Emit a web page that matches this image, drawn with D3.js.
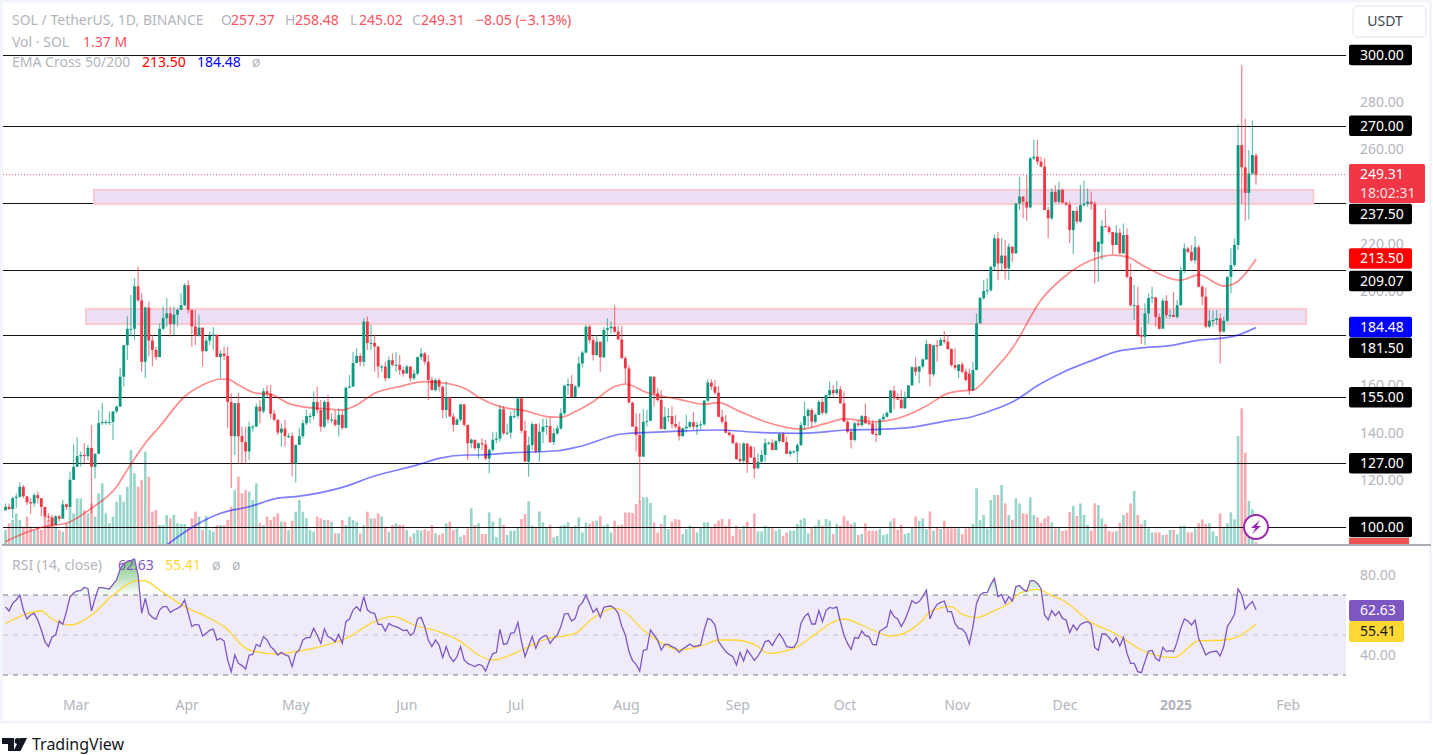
<!DOCTYPE html>
<html>
<head>
<meta charset="utf-8">
<title>SOL / TetherUS</title>
<script src="https://cdn.jsdelivr.net/npm/d3@7"></script>
<style>
  html, body { margin: 0; padding: 0; background: #fff; overflow: hidden; }
  svg { display: block; font-family: "Noto Sans", Roboto, sans-serif; }
  .scale-text { font-size: 14px; fill: #b2b5be; }
  .legend { font-size: 14px; }
</style>
</head>
<body>
<div id="chart"></div>
<script>
// daily candles, index 0 = 10 Feb 2024, last = 24 Jan 2025
const opens = [107,108.6,107.6,112.2,112.8,117,113,110.5,110,113.5,
112.2,108.5,104.5,104,100.8,104.5,103.5,109.6,108.5,120,
125.5,130,130.5,130,133.5,125.5,131,144,144.5,144.5,
144.5,149,151,163.7,177,184,184,202,196,170,
193,179,175,172,184,188.5,190.5,186,190,192,
194,202.5,192,185,181,184.5,174.5,179,181,181.5,
172,173.5,172.5,153,138.5,152.5,138.5,136,132,142.5,
142.5,151,149,157.5,156.5,148,145.5,140,141.7,138.5,
138.5,127,134.8,138.5,144,147,147,153,149.6,142.5,
153,145.5,145.5,143.3,147.5,142,159,159.5,169.5,172.5,
170,187,178,178,176.5,168,168,163,170.7,168.7,
168.7,166.5,165,168,163,165,172,173.5,170,162.3,
158,162.3,159.5,149.6,155,146.8,143.3,145.5,152,143.3,
135.5,137,133.4,135.5,135,129,132.7,137,137.5,149.9,
139.7,140,147,147,154.5,140.8,127.7,134.7,143.6,132,
140.4,142.5,142.8,136,139.7,141.8,148.2,159.9,160.6,155,
159.5,169.3,173.9,184.9,179.2,172.9,178.5,171.9,183.5,184.2,
184.9,182.8,179.5,171.5,167.2,152.7,142.5,139,129.8,144.6,
145,163.7,156.6,153.8,141.5,146.7,147,143.6,142.5,138.5,
141.8,142.5,144.4,142.5,143.2,143.5,153.5,161.2,159.5,156.9,
146.7,144.6,140,139,135.5,128.8,128,135.4,134,129.5,
124.8,127.7,130.5,135.5,135.7,132.6,136.4,139.4,136,131,
132,132,134.7,143.2,147,149.6,144.6,147.5,153,148.4,
156,158,156.7,158.3,152.4,144.6,140.4,136.9,143.9,143.2,
147,144,143.9,139.4,139,145.6,146.7,148.4,157.8,154.5,
154,150.3,155,160,167.7,165.8,168,171,177.5,164.7,
177,176.8,179.2,178.5,175.4,168.6,166.1,168.9,165.8,165,
157.8,166.5,186.3,197,200,200.3,210.3,222.3,211.7,215,
209.6,218.8,216,237.1,240,237.8,235.4,256.2,256.9,254.8,
252.7,234.3,230.8,242,237.8,242.8,237.4,236.7,225.8,233.9,
229.4,236.4,237,237.8,237,216.6,220,227.5,227,225,
219.5,224.7,216,223.7,206,194,194,181.3,180.6,190.5,
197,197.3,189,184,195.9,189.8,189.8,189,194,208.9,
218,216.6,213,218.5,201.8,197.6,184.9,187.4,187.7,188.4,
182.8,187.4,206,211,219.5,261.8,252.4,241.6,249.8,257.37];
const highs = [110,110,112.9,114.3,119,117.8,112.9,112.2,114.3,115,
112.2,108.6,105.8,105.1,105.1,105.1,111.5,110,123.5,135,
138,132,135.5,134.8,143.2,131.2,149.6,152.7,145.4,148.9,
148.9,151.7,167.3,177.1,189.2,198.3,205.4,210.3,199,193.4,
195.5,181.4,176.4,186.3,193.4,196.9,193.4,193.4,192.7,199,
203.3,204.4,192,192,189.9,184.2,180.4,182.8,184.6,181.4,
175,176.4,176.4,156.7,152.4,156.7,142.5,142.5,144.7,143.2,
152.4,153.8,158.8,160.2,160.2,149.6,145.4,144,145.4,139.7,
140,134.8,141.8,145.4,149.6,148.2,157.4,159.5,153.8,153.8,
156,148.2,149.6,150.3,149.6,159.5,164.4,174.3,175.7,173.6,
188.4,189.2,185.6,181.4,176.4,168.7,170.1,172.2,173.6,174.3,
172.9,168,168.7,167.3,166.6,172.2,175.7,174.3,172.9,163.7,
163,163,159.5,161.6,155.3,148.2,146.1,151.7,151.7,143.2,
137.6,136.2,135.8,137.6,136.9,133.3,140.4,140.4,151.7,151.3,
143.9,148.9,149.6,155.2,154.9,145,138.3,144.6,144,144,
146,146,146.5,141.8,143.2,150.3,160.2,163,164.4,160.2,
172.2,174.7,185.6,185.6,180.7,181.4,178.5,184.9,188.4,187,
194,185.2,185.2,172.5,168.6,153.1,148.2,148.2,149.9,149.6,
164.1,163.7,158.8,158,151,150.3,151.3,147.5,144.6,142.2,
147.7,145,148.9,144.6,145,153.8,162.6,162.6,162.3,159.7,
149.6,147.5,141.1,139.7,136.2,135.7,135.9,135.5,134.7,134,
131.2,132.6,137.6,136.2,137.2,136.9,139.7,140.4,138.3,132.6,
132.6,135.5,144.6,153.1,150.3,150.3,148.2,153.8,154.5,155.9,
161.6,160.2,162,159.7,157.4,145.3,141.8,144.6,145.3,147.5,
152.4,146.5,145.3,144.6,146,148.2,148.9,158,159.7,156.6,
158.3,157.4,160.2,168.2,171.9,168.2,171.5,179.5,177.8,177.1,
179.2,180.4,183.2,181.4,175.7,175.7,168.9,169.8,167.2,167.2,
170,190.5,197.6,204.6,205.4,210.3,224,225.1,222.3,221.6,
220.2,218.8,237.1,248.4,240,249.1,256.9,264.2,264,256.9,
256.2,235.7,243.5,244.9,246.3,243.5,237.9,237.9,234.3,235.7,
244.9,246.7,243.5,242.1,237.9,220.9,230.1,234.6,227.9,225.1,
227.9,226.5,228.6,226.5,211.7,202.5,201.8,184.9,194.8,199,
201.8,197.6,190.5,196.9,198.3,191.9,199.7,196.2,210.3,220.2,
218.8,219.5,223.3,219.5,202.5,201.5,191.9,191.6,191.9,190.5,
189.1,206.3,218.1,222.3,270.7,295.7,273.1,259.7,272.2,258.48];
const lows = [107.2,107.2,103.7,108,112.2,112.2,109.3,105.5,108.6,110,
104.4,103.7,102.3,99.5,103,102.3,107.2,107.2,118.5,122.8,
125.6,125.6,127,128.4,105.8,120.6,131.2,143.2,143.2,143.2,
136.9,148.2,151,159.5,170.8,180.7,179.3,195.5,165.8,163,
172.2,168,170.8,171.9,183.5,184.9,180.7,181.4,184.9,192,
193.4,190.6,176.4,177.1,180.7,168,174.3,177.1,175,172.2,
163,170.8,141.8,116.4,130.5,127,127,127,128.4,140.4,
142.5,144,148.2,155.3,146.1,144.7,139,134.1,134.1,137.6,
121.4,119,134.8,137.6,143.2,144,145.4,148.2,140.4,141.8,
144,144,142.5,138.3,141.1,141.8,158.8,159.5,169.4,168,
168,175,175,165.8,163,165.8,161.6,163.7,168,165.8,
164.4,163.7,165.8,161.6,162.3,164.4,170.8,168.7,153.8,158,
157.4,157.4,146.1,146.1,146.8,140.4,143.2,144.7,142.5,128.4,
133.4,132.7,129.1,132.6,128.4,122.7,131.9,135.5,136.2,139,
139,137.6,146,146,139.7,127.7,121.3,132.6,131.2,127.7,
135.5,139,135.5,134.7,139,141.1,147.5,156,155.2,155.2,
158.8,167.7,173.6,177.8,170.5,172.2,165.8,171.5,178.5,182,
182,179.2,171.5,160.9,152.7,142.5,132,110.7,129.8,142.5,
145.3,151,153.1,141.5,141.1,144.6,141.8,141.8,136.6,138.3,
140,141.8,141.1,139,141.1,143,153.1,158,156,146.5,
143.9,139.7,138.3,135.2,128.4,127.2,127,123,129.1,120.6,
124.9,127,127.7,134.7,132.6,132.6,135.7,135.9,130.9,129.8,
131.2,127.2,134.3,141.1,142.5,142.2,143.9,147.5,147.5,147.5,
155.2,155.2,156,152.1,144.6,139.7,133.3,136.2,142.5,142.5,
143.6,143.2,139,135.9,138.7,145.3,146.3,148.2,149.9,153.8,
150.3,150,155,160.2,164,160.9,167.2,170.8,159.5,163.7,
170,177.1,177.8,175,167.9,166.5,163,165.1,161.6,155.9,
157.6,166.5,186.3,196.2,198.3,199.7,208.9,204.6,208.9,204.9,
204.6,212.4,215.7,234.3,230.8,229.8,235,255.5,253.4,252.4,
234.3,222.3,230.1,237.4,237.1,237.1,236,220.2,215.7,228.6,
228.9,235.7,235.7,234.3,203.2,203.9,213.1,227.2,224.1,215.7,
219.5,215.7,215.7,205.4,193.3,187.7,180.6,177.5,177.1,186.3,
194.8,184.9,183.7,184.2,188.4,188.4,189.1,188.4,194,207.5,
216,212.4,211.7,201.5,194,184.2,184.2,184.9,185.6,169.3,
182.3,187,199,210.3,217.4,236.8,229.8,230.3,249.1,245.02];
const closes = [108.6,107.6,112.2,112.8,117,113,110.5,110,113.5,112.2,
108.5,104.5,104,100.8,104.5,103.5,109.6,108.5,120,125.5,
130,130.5,130,133.5,125.5,131,144,144.5,144.5,144.5,
149,151,163.7,177,184,184,202,196,170,193,
179,175,172,184,188.5,190.5,186,190,192,194,
202.5,192,185,181,184.5,174.5,179,181,181.5,172,
173.5,172.5,153,138.5,152.5,138.5,136,132,142.5,142.5,
151,149,157.5,156.5,148,145.5,140,141.7,138.5,138.5,
127,134.8,138.5,144,147,147,153,149.6,142.5,153,
145.5,145.5,143.3,147.5,142,159,159.5,169.5,172.5,170,
187,178,178,176.5,168,168,163,170.7,168.7,168.7,
166.5,165,168,163,165,172,173.5,170,162.3,158,
162.3,159.5,149.6,155,146.8,143.3,145.5,152,143.3,135.5,
137,133.4,135.5,135,129,132.7,137,137.5,149.9,139.7,
140,147,147,154.5,140.8,127.7,134.7,143.6,132,140.4,
142.5,142.8,136,139.7,141.8,148.2,159.9,160.6,155,159.5,
169.3,173.9,184.9,179.2,172.9,178.5,171.9,183.5,184.2,184.9,
182.8,179.5,171.5,167.2,152.7,142.5,139,129.8,144.6,145,
163.7,156.6,153.8,141.5,146.7,147,143.6,142.5,138.5,141.8,
142.5,144.4,142.5,143.2,143.5,153.5,161.2,159.5,156.9,146.7,
144.6,140,139,135.5,128.8,128,135.4,127.2,129.5,124.8,
127.7,130.5,135.5,135.7,132.6,136.4,139.4,136,131,132,
132,134.7,143.2,147,149.6,144.6,147.5,153,148.4,156,
158,156.7,158.3,152.4,144.6,140.4,136.9,143.9,143.2,147,
144,143.9,139.4,139,145.6,146.7,148.4,157.8,154.5,154,
150.3,155,160,167.7,165.8,168,171,177.5,164.7,177,
176.8,179.2,178.5,175.4,168.6,167.5,168.9,165.8,162.3,158,
166.5,186.3,197,200,200.3,210.3,222.3,211.7,215,209.6,
218.8,216,237.1,240,237.8,235.4,256.2,256.9,254.8,252.7,
234.3,230.8,242,237.8,242.8,237.4,236.7,225.8,233.9,229.4,
236.4,237,237.8,237,216.6,220.9,227.5,227,225,219.5,
224.7,216,223.7,206,194,194,181.3,180.6,190.5,197,
197.3,189,184,195.9,189.8,189.8,189,194,208.9,218,
216.6,213,218.5,201.8,197.6,184.9,187.4,187.7,188.4,182.8,
187.4,206,211,219.5,261.8,252.4,241.6,249.8,257.6,249.31];
// volume, millions of SOL
const volumes = [9.7,14.3,16.6,21.1,16.6,12,18.9,12,9.7,12,
9.7,18.9,16.6,18.9,12,9.7,8.5,14.3,25.7,21.1,
31.5,31.5,23.4,21.1,28,18.9,34.9,41.8,21.1,14.3,
18.9,29.2,33.8,29.2,39.5,64.8,48.7,39.5,44.1,63.7,
46.4,22.3,23.4,13.1,13.1,20,17.7,20,14.3,13.8,
13.8,10.8,17.7,22.3,18.9,9.7,19.3,9.7,8.5,13.1,
13.1,13.1,16.6,25.7,37.2,46.4,34.9,37.2,36.1,30.3,
41.8,14.3,13.1,18.9,16.6,18.9,21.1,15.4,15.4,9.7,
16.1,22.3,30.3,22.3,17.7,9.7,8.5,18.9,17.7,16.6,
16.6,15.4,7.4,7.4,16.6,13.1,18.9,16.6,15.4,7.4,
13.1,22.3,17.7,17.7,21.1,18.9,12,8.5,13.1,14.3,
13.1,13.1,9.7,5,7.4,9.7,9.2,10.1,9,13.1,
7.4,6.2,7.4,14.3,15.4,9.7,10.8,5,6.2,10.8,
24.6,13.1,14.3,6.9,6.9,21.8,15.4,4.6,17.9,13.3,
6.2,9.2,9.2,11.5,17.2,20.7,29.4,12.6,11.5,22.5,
14.9,11.5,13.3,4.6,5.7,12.6,13.3,14.9,11.5,12.6,
18.4,8,14.9,13.8,15.6,16.1,19.1,12.6,13.8,8,
16.1,12.6,13.3,21.8,21.8,21.4,27.6,29.9,32.2,32.2,
28.3,14.9,8,13.8,20,10.3,15.4,17.2,16.8,6.9,
10.3,12.6,11.5,8,11.5,14.9,14.9,11.5,13.8,16.1,
17.2,12.6,17.2,5.7,12.6,10.3,12.6,15.4,11.5,21.1,
8.7,8.7,12.6,11.5,11.5,9.2,10.3,5.7,8,9.2,
9.2,13.8,16.8,17.9,7.4,11.5,12.6,16.8,12.6,17.2,
16.1,6.9,13.8,12.6,19.5,16.1,13.8,14.9,6.2,6.9,
14.3,9.2,9.2,9.2,10.3,6.2,6.9,15.6,17.9,9.9,
13.3,6.9,7.6,11.5,19.1,16.1,17.7,10.3,22.5,9.2,
11.5,10.3,16.1,11.5,10.8,10.8,10.8,6.9,10.8,11.5,
13.8,38.4,16.6,20,10.8,30.3,33.8,33.8,40.7,28,
20,16.6,31.5,28,21.1,20.7,32.2,20,18.4,14.7,
17.7,19.3,14.9,10.8,11.3,9,9.7,22.1,26.2,19.3,
28,20,13.1,9.2,28,26.9,17.7,13.8,9,8.5,
9,14.7,20,21.6,28,36.6,20,13.8,16.6,10.8,
7.8,8,8,6.2,6.7,9.7,9.7,6.7,12.4,12.6,
8,8,10.8,14.3,17,13.8,14.3,8.7,5.5,21.1,
10.8,14.3,21.8,17,74.5,93.6,63,29.7,23.9,1.37];
// EMA readings as [day, price]
const ema50 = [[0,93.8],[4,96.6],[11,100.2],[17,101.6],[24,108],[31,117.1],[34,124.2],[39,135.5],[43,142.5],[50,155.3],
[55,160.2],[60,162.6],[62,162.6],[65,160.2],[70,156.7],[74,156.2],[79,152.4],[84,150.7],[88,150.3],[94,149.6],
[98,151.7],[103,156.7],[110,159.5],[117,161.6],[123,160.9],[129,158.1],[132,155],[138,151],[145,149.3],[151,146.8],
[155,146.5],[159,148.9],[164,153.1],[170,159.5],[173,160.6],[179,157],[188,154.1],[195,152],[199,152.7],[205,148.9],
[212,144.6],[222,141.5],[229,143.9],[234,145.8],[242,144.6],[250,146.5],[257,151.3],[263,156.6],[266,157.6],[270,158],
[275,165],[281,175.7],[289,196.2],[295,205.4],[303,213],[309,215.2],[313,214.5],[318,210.3],[328,204.6],[333,206.8],
[340,202.1],[343,203.2],[349,213.5]];
const ema200 = [[45,92.4],[51,98.8],[54,101.6],[60,105.8],[68,108.6],[76,112.2],[81,112.9],[94,116.8],[103,121.6],[115,126.3],
[121,129.1],[129,130.5],[132,130.5],[142,131.5],[154,132.3],[160,134],[172,139.4],[185,140.4],[199,141.1],[210,140.1],
[222,139.7],[235,141.1],[244,141.4],[252,142.1],[264,145.3],[269,146.4],[275,149.3],[281,153],[289,160.8],[295,165.5],
[303,170.4],[310,174.3],[316,175.7],[326,177.1],[333,179.2],[339,179.9],[343,180.9],[349,184.48]];
const rsi = [64,62,65.8,67.5,70,62.5,58,60,60.8,57.5,
52.5,46.7,44.2,49,50,57,55.3,61.7,69,71,
72,72.2,73.8,73.3,62,68.3,73.7,73.7,73.3,73,
75.3,77.5,83,85.8,86.7,87.2,88,80,60.8,68.3,
60.8,58.8,57.8,62.5,64.2,64.2,61.3,62.5,63.3,64.5,
67.5,60.8,54.2,55.3,55,49.5,50.8,52.5,53,47.5,
48.3,47,37.5,31.7,40,35.8,34.7,33,40,40.3,
45.3,44.2,49.2,47.5,44.2,42.5,40,41.3,40,39.5,
34.2,40.8,42.5,47.5,48.7,48.7,53.3,50,45.8,53,
49.2,48.3,46.7,50.3,45.8,56.7,58,62.5,64.2,62,
69.2,62.5,61.2,60.8,55.3,55.3,52,55.8,54.7,54.2,
53.3,52.2,52.5,49.7,51.3,58,58.8,54.2,47.5,44.2,
47.5,45,38.7,44.2,39.2,36.7,39.2,44.2,37.5,35.8,
35,34.2,35.3,34.7,32,36.7,40.7,41.2,52.8,45.3,
45.8,50.8,51.2,56.3,46.7,39.2,44.2,49.2,43.3,47.8,
49.2,49.7,45.8,48.3,50,54.2,60.5,60.8,57,58.3,
64.2,66.2,70,65.8,61.3,63.3,58.8,63.8,64.3,64.5,
63.3,60.8,54.2,50,41.7,37.2,35.3,32,42.3,42.8,
52.5,50,47.5,42.5,45.3,45.3,44.2,43.3,41.3,43,
44.2,45.5,44.2,44.5,45,52.5,58.3,57.5,55,46.7,
44.2,41.7,40.3,39.2,35,41.3,37,42.5,40,37.3,
39.5,42.5,46.7,47.2,44.7,48,50.7,48,44.2,43.8,
43.8,46.7,55.8,59.2,60.8,55.5,55.5,62.2,56.7,62.2,
63.8,63.3,64,56.7,50,45.8,42.8,48.7,48.3,52,
49.7,49.2,45.3,45,52,53,54.2,62.2,59.2,58,
54.2,57.5,62,67.2,65.8,66.7,69.2,72.5,58,62.5,
65.3,66.3,67,61.7,61.7,55.8,53.3,53,50.8,45.5,
54.2,65.8,70,71.2,71.3,75.3,78.3,69.2,70.3,65.8,
69.2,67,74.2,74.7,72.8,71.7,77.2,77.2,75.8,73.3,
60,57.5,62.2,59.7,61.7,58.3,57.5,51.2,55,52.5,
55.3,56.2,56.7,55.3,43.7,42.3,50.5,50.5,48.7,46.2,
48.7,44.5,48.8,40.8,35.8,35.8,31.7,31.2,36.7,42,
42.3,38.3,37,43.8,41.7,42.2,41.7,46.7,53.3,58,
57,55,57.5,48.3,44.2,40,41.3,41.7,42,39.5,
44.2,54.2,57,60.3,73,70,62.8,65,66.7,62.63];
const rsiMa = [[0,55.8],[2,57.5],[5,60],[10,62],[13,58],[18,55],[24,60],[30,70],[37,77.2],[39,77],
[43,72.5],[50,64.2],[56,59.2],[61,54.2],[68,42.5],[76,40.5],[82,42],[88,44.2],[95,48.3],[103,56.7],
[108,59.3],[114,55],[121,51.7],[127,46.7],[132,40],[136,37.5],[142,40.8],[146,44.2],[151,48],[159,50.8],
[163,57],[170,63.3],[172,62.5],[178,52.5],[185,44.2],[188,42.5],[195,45],[199,47.5],[203,47.5],[209,45.3],
[213,40.8],[221,44.2],[225,49.2],[234,58],[239,55],[247,49.5],[256,57.5],[258,61.7],[264,64.2],[267,60.3],
[271,58.8],[276,62.2],[280,65.8],[283,70.8],[288,72.8],[292,69.7],[295,67.5],[303,56.3],[310,50.5],[317,42.5],
[326,38.7],[333,47],[340,47.5],[344,49.2],[349,55.41]];

const levels = [300,270,237.5,209.07,181.5,155,127,100];
const priceTicks = [280,260,220,200,160,140,120];
const rsiTicks = [80,40];
const rsiBands = [70,50,30];
// month label centres, as day numbers
const monthDays = [19.7,50.7,81,112,142.5,173.3,204.4,234.3,265.6,295.7,326.7,358];
const monthLabels = ['Mar','Apr','May','Jun','Jul','Aug','Sep','Oct','Nov','Dec','2025','Feb'];
// demand / supply boxes: [first day, last day, top price, bottom price]
const zones = [[24.7,365,242.8,236.9],[22.5,363,192.4,186]];
const lastPrice = 249.31;

const width = 1433, height = 755;
const plotLeft = 3, plotRight = 1346;
const up = '#089981', down = '#f23645';

const svg = d3.select('#chart').append('svg')
  .attr('width', width)
  .attr('height', height);

const x = d3.scaleLinear().domain([0, 349]).range([5.5, 1256]);
const y = d3.scaleLinear().domain([100, 300]).range([527, 55]);
const yVol = d3.scaleLinear().domain([0, 100]).range([544, 399]);
const yRsi = d3.scaleLinear().domain([30, 70]).range([675, 595]);

const defs = svg.append('defs');
defs.append('clipPath').attr('id', 'price-clip').append('rect')
  .attr('x', plotLeft).attr('y', 0).attr('width', plotRight - plotLeft).attr('height', 544);
defs.append('clipPath').attr('id', 'pane-clip').append('rect')
  .attr('x', 1340).attr('y', 530).attr('width', 90).attr('height', 14);
const grad = defs.append('linearGradient').attr('id', 'rsi-over')
  .attr('gradientUnits', 'userSpaceOnUse')
  .attr('x1', 0).attr('x2', 0).attr('y1', yRsi(88)).attr('y2', yRsi(70));
grad.append('stop').attr('offset', 0).attr('stop-color', '#4caf50').attr('stop-opacity', 0.75);
grad.append('stop').attr('offset', 1).attr('stop-color', '#4caf50').attr('stop-opacity', 0.02);
defs.append('clipPath').attr('id', 'rsi-top-clip').append('rect')
  .attr('x', plotLeft).attr('y', 546).attr('width', plotRight - plotLeft).attr('height', yRsi(70) - 546);

// outer frame
svg.append('rect').attr('x', 1.5).attr('y', 1).attr('width', 1429).attr('height', 721)
  .attr('fill', 'none').attr('stroke', '#f0f3fa').attr('stroke-width', 2.5);

const price = svg.append('g').attr('clip-path', 'url(#price-clip)');

// volume first, everything else sits on top of it
price.append('g').selectAll('rect')
  .data(volumes)
  .join('rect')
  .attr('x', (d, i) => x(i) - 1.3)
  .attr('width', 2.6)
  .attr('y', d => yVol(d))
  .attr('height', d => 544 - yVol(d))
  .attr('fill', (d, i) => closes[i] >= opens[i] ? up : down)
  .attr('opacity', 0.42);

// level lines, 237.50 runs under the first box
price.append('g').selectAll('line')
  .data(levels)
  .join('line')
  .attr('x1', plotLeft).attr('x2', plotRight)
  .attr('y1', d => Math.round(y(d)) + 0.5).attr('y2', d => Math.round(y(d)) + 0.5)
  .attr('stroke', '#131313')
  .attr('stroke-width', 1.2);

price.append('g').selectAll('rect')
  .data(zones)
  .join('rect')
  .attr('x', d => x(d[0]))
  .attr('width', d => x(d[1]) - x(d[0]))
  .attr('y', d => y(d[2]))
  .attr('height', d => y(d[3]) - y(d[2]))
  .attr('fill', '#eddff3')
  .attr('stroke', '#fcc9cf')
  .attr('stroke-width', 2);

price.append('line')
  .attr('x1', plotLeft).attr('x2', plotRight)
  .attr('y1', y(lastPrice)).attr('y2', y(lastPrice))
  .attr('stroke', down).attr('stroke-width', 1).attr('stroke-dasharray', '1 2').attr('opacity', 0.8);

// candles
const candle = price.append('g').selectAll('g')
  .data(closes)
  .join('g')
  .attr('fill', (d, i) => d >= opens[i] ? up : down)
  .attr('stroke', (d, i) => d >= opens[i] ? up : down);
candle.append('line')
  .attr('x1', (d, i) => x(i)).attr('x2', (d, i) => x(i))
  .attr('y1', (d, i) => y(highs[i])).attr('y2', (d, i) => y(lows[i]))
  .attr('stroke-width', 1.2)
  .attr('stroke-opacity', 0.62);
candle.append('rect')
  .attr('x', (d, i) => x(i) - 1.4)
  .attr('width', 2.8)
  .attr('y', (d, i) => y(Math.max(d, opens[i])))
  .attr('height', (d, i) => Math.max(1, Math.abs(y(d) - y(opens[i]))))
  .attr('stroke', 'none');

const emaLine = d3.line().x(d => x(d[0])).y(d => y(d[1])).curve(d3.curveMonotoneX);
price.append('path').attr('d', emaLine(ema50))
  .attr('fill', 'none').attr('stroke', '#ff0000').attr('stroke-opacity', 0.45).attr('stroke-width', 1.7);
price.append('path').attr('d', emaLine(ema200))
  .attr('fill', 'none').attr('stroke', '#0000ff').attr('stroke-opacity', 0.5).attr('stroke-width', 1.7);

// pane separator
svg.append('line').attr('x1', 2).attr('x2', 1431).attr('y1', 545).attr('y2', 545)
  .attr('stroke', '#8c8f98').attr('stroke-width', 1.5);

// price scale
svg.append('g').selectAll('text')
  .data(priceTicks)
  .join('text')
  .attr('class', 'scale-text')
  .attr('x', 1360).attr('y', d => y(d)).attr('dy', '0.35em')
  .text(d => d3.format('.2f')(d));

// volume tag, cut off by the pane edge
const volTag = svg.append('g').attr('clip-path', 'url(#pane-clip)');
volTag.append('rect').attr('x', 1349).attr('y', 538).attr('width', 60).attr('height', 10).attr('fill', '#ef5350');
volTag.append('text').attr('x', 1361).attr('y', 548).attr('dy', '0.35em').attr('font-size', 13).attr('fill', '#fff').text('1.37 M');

// nudged where the labels would otherwise stack
const labelNudge = new Map([[237.5, 11.5], [209.07, 11.4], [181.5, 13]]);
function priceTag(cy, h, w, fill, text, color) {
  svg.append('rect').attr('x', 1349).attr('y', cy - h / 2).attr('width', w).attr('height', h)
    .attr('rx', 2).attr('fill', fill);
  svg.append('text').attr('x', 1360).attr('y', cy).attr('dy', '0.35em')
    .attr('font-size', 14).attr('fill', color).text(text);
}
levels.forEach(l => priceTag(y(l) + (labelNudge.get(l) || 0), 20.5, 63, '#000', d3.format('.2f')(l), '#fff'));
priceTag(258.5, 20.5, 63, '#ff0000', '213.50', '#fff');
priceTag(327, 20.5, 63, '#0000ff', '184.48', '#fff');

svg.append('rect').attr('x', 1349).attr('y', 164).attr('width', 76).attr('height', 39).attr('rx', 2).attr('fill', down);
svg.append('text').attr('x', 1360).attr('y', 174.5).attr('dy', '0.35em').attr('font-size', 14).attr('fill', '#fff').text('249.31');
svg.append('text').attr('x', 1360).attr('y', 193).attr('dy', '0.35em').attr('font-size', 14).attr('fill', '#fff').attr('opacity', 0.85).text('18:02:31');

// RSI pane
svg.append('rect').attr('x', plotLeft).attr('width', plotRight - plotLeft)
  .attr('y', yRsi(70)).attr('height', yRsi(30) - yRsi(70))
  .attr('fill', '#7e57c2').attr('opacity', 0.12);
svg.append('g').selectAll('line')
  .data(rsiBands)
  .join('line')
  .attr('x1', plotLeft).attr('x2', plotRight)
  .attr('y1', d => yRsi(d)).attr('y2', d => yRsi(d))
  .attr('stroke', d => d === 50 ? '#c4c4cc' : '#787b86')
  .attr('stroke-dasharray', '5 5');

const rsiLine = d3.line().x((d, i) => x(i)).y(d => yRsi(d));
const rsiArea = d3.area().x((d, i) => x(i)).y0(yRsi(70)).y1(d => yRsi(d));
svg.append('path').attr('d', rsiArea(rsi))
  .attr('fill', 'url(#rsi-over)').attr('clip-path', 'url(#rsi-top-clip)');
svg.append('path').attr('d', d3.line().x(d => x(d[0])).y(d => yRsi(d[1])).curve(d3.curveMonotoneX)(rsiMa))
  .attr('fill', 'none').attr('stroke', '#fdd835').attr('stroke-width', 1.3);
svg.append('path').attr('d', rsiLine(rsi))
  .attr('fill', 'none').attr('stroke', '#7e57c2').attr('stroke-width', 1.3);

svg.append('g').selectAll('text')
  .data(rsiTicks)
  .join('text')
  .attr('class', 'scale-text')
  .attr('x', 1360).attr('y', d => yRsi(d)).attr('dy', '0.35em')
  .text(d => d3.format('.2f')(d));
svg.append('rect').attr('x', 1349).attr('y', 600).attr('width', 55).attr('height', 21).attr('rx', 2).attr('fill', '#7e57c2');
svg.append('text').attr('x', 1360).attr('y', 610.5).attr('dy', '0.35em').attr('font-size', 14).attr('fill', '#fff').text('62.63');
svg.append('rect').attr('x', 1349).attr('y', 621).attr('width', 55).attr('height', 21).attr('rx', 2).attr('fill', '#fdd835');
svg.append('text').attr('x', 1360).attr('y', 631.5).attr('dy', '0.35em').attr('font-size', 14).attr('fill', '#131722').text('55.41');

// time axis
svg.append('g').selectAll('text')
  .data(monthLabels)
  .join('text')
  .attr('class', 'scale-text')
  .attr('x', (d, i) => x(monthDays[i]))
  .attr('y', 705).attr('dy', '0.35em')
  .attr('text-anchor', 'middle')
  .attr('font-weight', d => d === '2025' ? 'bold' : null)
  .text(d => d);

// legends
function legendRow(baseline, parts) {
  const row = svg.append('text').attr('class', 'legend').attr('y', baseline);
  parts.forEach(p => {
    row.append('tspan').attr('x', p[0]).attr('fill', p[2]).text(p[1]);
  });
}
const grey = '#b2b5be', soft = '#f7525f';
legendRow(25, [[12, 'SOL / TetherUS, 1D, BINANCE', grey], [221, 'O', grey], [231, '257.37', soft], [285, 'H', grey],
  [295, '258.48', soft], [350, 'L', grey], [359, '245.02', soft], [412, 'C', grey], [421, '249.31', soft], [476, '−8.05 (−3.13%)', soft]]);
legendRow(47, [[12, 'Vol · SOL', grey], [83, '1.37 M', soft]]);
legendRow(67, [[12, 'EMA Cross 50/200', grey], [142, '213.50', '#ff0000'], [197, '184.48', '#0000ff'], [252, 'ø', grey]]);
legendRow(570, [[12, 'RSI (14, close)', grey], [118, '62.63', '#7e57c2'], [165, '55.41', '#fdd835'], [212, 'ø', grey], [232, 'ø', grey]]);

// currency button
svg.append('rect').attr('x', 1353).attr('y', 6).attr('width', 73).attr('height', 31).attr('rx', 5)
  .attr('fill', '#fff').attr('stroke', '#e0e3eb');
svg.append('text').attr('x', 1385).attr('y', 21).attr('dy', '0.35em').attr('text-anchor', 'middle')
  .attr('font-size', 14).attr('fill', '#434651').text('USDT');

// lightning badge
svg.append('circle').attr('cx', 1256).attr('cy', 527).attr('r', 12)
  .attr('fill', '#fff').attr('stroke', '#9c27b0').attr('stroke-width', 2);
svg.append('path').attr('d', 'M1260 520 L1251 528 L1255.5 528 L1252 534 L1261 526 L1256.5 526 Z').attr('fill', '#9c27b0');

// TradingView mark
const logo = svg.append('g').attr('fill', '#131722');
logo.append('path').attr('d', 'M2 738 H14 V751 H8 V744 H2 Z');
logo.append('circle').attr('cx', 17.5).attr('cy', 741).attr('r', 2.9);
logo.append('path').attr('d', 'M27 738 L20.5 751 H13.5 L20 738 Z');
svg.append('text').attr('x', 32).attr('y', 750).attr('font-size', 16).attr('fill', '#131722').text('TradingView');
</script>
</body>
</html>
